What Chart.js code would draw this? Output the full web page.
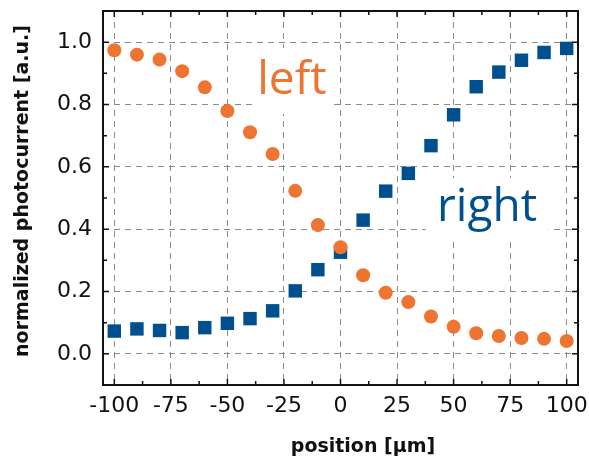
<!DOCTYPE html>
<html>
<head>
<meta charset="utf-8">
<script src="https://cdn.jsdelivr.net/npm/chart.js@4.4.1/dist/chart.umd.min.js"></script>
<style>
  html, body { margin: 0; padding: 0; background: #fff; }
  #wrap { width: 589px; height: 461px; position: relative; }
</style>
</head>
<body>
<div id="wrap"><canvas id="grafico"></canvas></div>
<script>
// valores
const positions = [-100, -90, -80, -70, -60, -50, -40, -30, -20, -10, 0, 10, 20, 30, 40, 50, 60, 70, 80, 90, 100];
const leftValues = [0.974, 0.960, 0.944, 0.907, 0.855, 0.779, 0.711, 0.641, 0.523, 0.413, 0.342, 0.252, 0.196, 0.166, 0.120, 0.087, 0.066, 0.057, 0.051, 0.048, 0.041];
const rightValues = [0.073, 0.080, 0.075, 0.068, 0.084, 0.098, 0.113, 0.138, 0.202, 0.270, 0.326, 0.429, 0.522, 0.579, 0.668, 0.767, 0.857, 0.904, 0.942, 0.967, 0.980];

const xTicks = [-100, -75, -50, -25, 0, 25, 50, 75, 100];
const yTicks = [0.0, 0.2, 0.4, 0.6, 0.8, 1.0];
const xMinorTicks = [-87.5, -62.5, -37.5, -12.5, 12.5, 37.5, 62.5, 87.5];
const yMinorTicks = [-0.1, 0.1, 0.3, 0.5, 0.7, 0.9, 1.1];

const xTitle = 'position [µm]';
const yTitle = 'normalized photocurrent [a.u.]';

// rótulos das curvas (posição em coordenadas dos dados)
const rotulos = [
  { texto: 'left', x: -21.5, y: 0.875, cor: '#EE7431', caixa: [80, 66] },
  { texto: 'right', x: 64.8, y: 0.468, cor: '#00508F', caixa: [123, 60] }
];

const LARANJA = '#EE7431';
const AZUL = '#00508F';

const molduraPlugin = {
  id: 'moldura',
  beforeDatasetsDraw(chart) {
    const ctx = chart.ctx;
    const xs = chart.scales.x;
    const ys = chart.scales.y;
    ctx.save();
    ctx.font = '46px "Open Sans"';
    ctx.textAlign = 'center';
    ctx.textBaseline = 'middle';
    rotulos.forEach(r => {
      const px = xs.getPixelForValue(r.x);
      const py = ys.getPixelForValue(r.y);
      ctx.fillStyle = '#fff';
      ctx.fillRect(px - r.caixa[0] / 2, py - r.caixa[1] / 2, r.caixa[0], r.caixa[1]);
      ctx.fillStyle = r.cor;
      ctx.fillText(r.texto, px, py);
    });
    ctx.restore();
  },
  afterDraw(chart) {
    const ctx = chart.ctx;
    const a = chart.chartArea;
    const xs = chart.scales.x;
    const ys = chart.scales.y;
    ctx.save();
    ctx.strokeStyle = '#111';
    ctx.lineWidth = 1.5;
    const tick = (vals, len) => {
      vals.forEach(v => {
        const px = xs.getPixelForValue(v);
        ctx.beginPath();
        ctx.moveTo(px, a.bottom); ctx.lineTo(px, a.bottom - len);
        ctx.moveTo(px, a.top); ctx.lineTo(px, a.top + len);
        ctx.stroke();
      });
    };
    const tickY = (vals, len) => {
      vals.forEach(v => {
        const py = ys.getPixelForValue(v);
        ctx.beginPath();
        ctx.moveTo(a.left, py); ctx.lineTo(a.left + len, py);
        ctx.moveTo(a.right, py); ctx.lineTo(a.right - len, py);
        ctx.stroke();
      });
    };
    tick(xTicks, 6);
    tick(xMinorTicks, 4);
    tickY(yTicks, 6);
    tickY(yMinorTicks, 4);

    ctx.lineWidth = 2;
    ctx.strokeRect(a.left, a.top, a.right - a.left, a.bottom - a.top);

    // títulos dos eixos
    ctx.fillStyle = '#111';
    ctx.font = 'bold 19px "DejaVu Sans"';
    ctx.textAlign = 'center';
    ctx.textBaseline = 'middle';
    ctx.fillText(xTitle, 363, 447);
    ctx.translate(23, 191);
    ctx.rotate(-Math.PI / 2);
    ctx.fillText(yTitle, 0, 0);
    ctx.restore();
  }
};

const ctx = document.getElementById('grafico').getContext('2d');

new Chart(ctx, {
  type: 'scatter',
  data: {
    datasets: [
      {
        label: 'left',
        data: positions.map((p, i) => ({ x: p, y: leftValues[i] })),
        pointStyle: 'circle',
        pointRadius: 7,
        pointHoverRadius: 7,
        backgroundColor: LARANJA,
        borderColor: LARANJA,
        borderWidth: 0
      },
      {
        label: 'right',
        data: positions.map((p, i) => ({ x: p, y: rightValues[i] })),
        pointStyle: 'rect',
        pointRadius: 9.5,
        pointHoverRadius: 9.5,
        backgroundColor: AZUL,
        borderColor: AZUL,
        borderWidth: 0
      }
    ]
  },
  options: {
    responsive: true,
    maintainAspectRatio: false,
    animation: false,
    events: [],
    layout: { padding: { top: 11, right: 11, left: 0, bottom: 0 } },
    plugins: {
      legend: { display: false },
      tooltip: { enabled: false }
    },
    scales: {
      x: {
        type: 'linear',
        min: -105,
        max: 105,
        afterBuildTicks: s => { s.ticks = xTicks.map(v => ({ value: v })); },
        afterFit: s => { s.height = 76; s.paddingLeft = 0; s.paddingRight = 0; },
        grid: { color: '#8a8a8a', lineWidth: 1, drawTicks: false },
        border: { display: false, dash: [6, 5] },
        ticks: {
          color: '#111',
          font: { family: 'DejaVu Sans', size: 22 },
          padding: 8,
          maxRotation: 0,
          autoSkip: false
        }
      },
      y: {
        type: 'linear',
        min: -0.1,
        max: 1.1,
        afterBuildTicks: s => { s.ticks = yTicks.map(v => ({ value: v })); },
        afterFit: s => { s.width = 103; s.paddingTop = 0; s.paddingBottom = 0; },
        grid: { color: '#8a8a8a', lineWidth: 1, drawTicks: false },
        border: { display: false, dash: [6, 5] },
        ticks: {
          color: '#111',
          font: { family: 'DejaVu Sans', size: 22 },
          padding: 11,
          callback: v => v.toFixed(1)
        }
      }
    }
  },
  plugins: [molduraPlugin]
});
</script>
</body>
</html>
